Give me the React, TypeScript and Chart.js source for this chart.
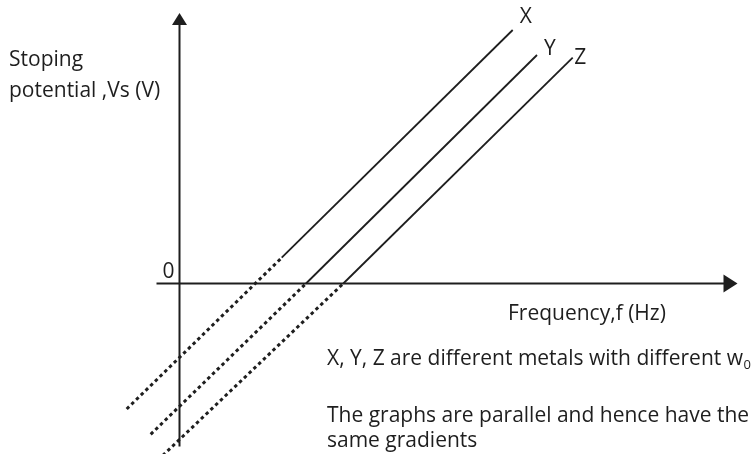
import React, { useEffect, useRef } from "react";
import { Chart, registerables } from "chart.js";

Chart.register(...registerables);

// Stopping potential against frequency for three metals.
// Each line: [extrapolated start, threshold point, end of measured range]
const metals = ["X", "Y", "Z"];
const freqX = [-1.056, 2.044, 6.664];
const vsX = [-2.51, 0.516, 5.07];
const freqY = [-0.576, 2.53, 7.15];
const vsY = [-3.016, 0.0, 4.57];
const freqZ = [-0.43, 3.276, 7.864];
const vsZ = [-3.53, 0.0, 4.516];

// visible window and drawn axis extents (data units)
const freqRange = [-3.59, 11.47];
const vsRange = [-3.41, 5.67];
const freqAxis = [-0.46, 11.16];
const vsAxis = [-3.26, 5.41];

const yTitle = ["Stoping", "potential ,Vs (V)"];
const xTitle = "Frequency,f (Hz)";
const noteMetals = "X, Y, Z are different metals with different w";
const noteSub = "0";
const noteGradient = ["The graphs are parallel and hence have the", "same gradients"];

const INK = "#1e1e1e";
const FONT = "'Open Sans', 'Noto Sans', sans-serif";

const lineSets = [
  { name: metals[0], f: freqX, v: vsX },
  { name: metals[1], f: freqY, v: vsY },
  { name: metals[2], f: freqZ, v: vsZ },
];

const annotate = {
  id: "axesAndText",
  beforeDatasetsDraw(chart: any) {
    const { ctx, scales } = chart;
    const x = scales.x;
    const y = scales.y;
    const ox = x.getPixelForValue(0);
    const oy = y.getPixelForValue(0);
    ctx.save();
    ctx.strokeStyle = INK;
    ctx.fillStyle = INK;
    ctx.lineWidth = 2;
    // frequency axis with arrow
    const hx0 = x.getPixelForValue(freqAxis[0]);
    const hx1 = x.getPixelForValue(freqAxis[1]);
    ctx.beginPath();
    ctx.moveTo(hx0, oy);
    ctx.lineTo(hx1 - 10, oy);
    ctx.stroke();
    ctx.beginPath();
    ctx.moveTo(hx1, oy);
    ctx.lineTo(hx1 - 14, oy - 9);
    ctx.lineTo(hx1 - 14, oy + 9);
    ctx.closePath();
    ctx.fill();
    // potential axis with arrow
    const vy0 = y.getPixelForValue(vsAxis[0]);
    const vy1 = y.getPixelForValue(vsAxis[1]);
    ctx.beginPath();
    ctx.moveTo(ox, vy0);
    ctx.lineTo(ox, vy1 + 8);
    ctx.stroke();
    ctx.beginPath();
    ctx.moveTo(ox, vy1);
    ctx.lineTo(ox - 7.5, vy1 + 12);
    ctx.lineTo(ox + 7.5, vy1 + 12);
    ctx.closePath();
    ctx.fill();
    ctx.restore();
  },
  afterDraw(chart: any) {
    const { ctx, scales } = chart;
    const x = scales.x;
    const y = scales.y;
    const ox = x.getPixelForValue(0);
    const oy = y.getPixelForValue(0);
    ctx.save();
    ctx.fillStyle = INK;
    ctx.font = `21px ${FONT}`;
    ctx.textBaseline = "alphabetic";
    ctx.textAlign = "left";
    // vertical axis title
    ctx.fillText(yTitle[0], 9, 66);
    ctx.fillText(yTitle[1], 9, 97);
    // origin
    ctx.textAlign = "right";
    ctx.fillText("0", ox - 5, oy - 6);
    // horizontal axis title
    ctx.textAlign = "left";
    ctx.fillText(xTitle, 508, oy + 36);
    // line names at the upper ends
    const offs = [
      [7, -13],
      [7, -6],
      [1.5, 0],
    ];
    lineSets.forEach((s, i) => {
      const px = x.getPixelForValue(s.f[2]);
      const py = y.getPixelForValue(s.v[2]);
      ctx.textAlign = "left";
      ctx.textBaseline = "middle";
      ctx.fillText(s.name, px + offs[i][0], py + offs[i][1]);
    });
    // notes
    ctx.textBaseline = "alphabetic";
    ctx.textAlign = "left";
    ctx.fillText(noteMetals, 327, 365);
    const w = ctx.measureText(noteMetals).width;
    ctx.font = `13px ${FONT}`;
    ctx.fillText(noteSub, 327 + w + 0.5, 369);
    ctx.font = `21px ${FONT}`;
    ctx.fillText(noteGradient[0], 327, 422);
    ctx.fillText(noteGradient[1], 327, 447);
    ctx.restore();
  },
};

export default function App() {
  const ref = useRef<HTMLCanvasElement | null>(null);

  useEffect(() => {
    if (!ref.current) return;
    const datasets: any[] = [];
    lineSets.forEach((s) => {
      datasets.push({
        label: `${s.name} extrapolated`,
        data: [
          { x: s.f[0], y: s.v[0] },
          { x: s.f[1], y: s.v[1] },
        ],
        showLine: true,
        borderColor: INK,
        borderWidth: 3,
        borderDash: [3.4, 3.2],
        borderCapStyle: "butt",
        pointRadius: 0,
        fill: false,
      });
      datasets.push({
        label: s.name,
        data: [
          { x: s.f[1], y: s.v[1] },
          { x: s.f[2], y: s.v[2] },
        ],
        showLine: true,
        borderColor: INK,
        borderWidth: 1.8,
        pointRadius: 0,
        fill: false,
      });
    });

    const chart = new Chart(ref.current, {
      type: "scatter",
      data: { datasets },
      options: {
        responsive: false,
        animation: false,
        devicePixelRatio: 1,
        layout: { padding: 0 },
        plugins: {
          legend: { display: false },
          tooltip: { enabled: false },
          title: { display: false },
        },
        scales: {
          x: { type: "linear", min: freqRange[0], max: freqRange[1], display: false },
          y: { type: "linear", min: vsRange[0], max: vsRange[1], display: false },
        },
      },
      plugins: [annotate],
    });
    return () => chart.destroy();
  }, []);

  return (
    <div style={{ position: "fixed", left: 0, top: 0, width: 753, height: 454, background: "#fff" }}>
      <canvas ref={ref} width={753} height={454} style={{ display: "block" }} />
    </div>
  );
}
